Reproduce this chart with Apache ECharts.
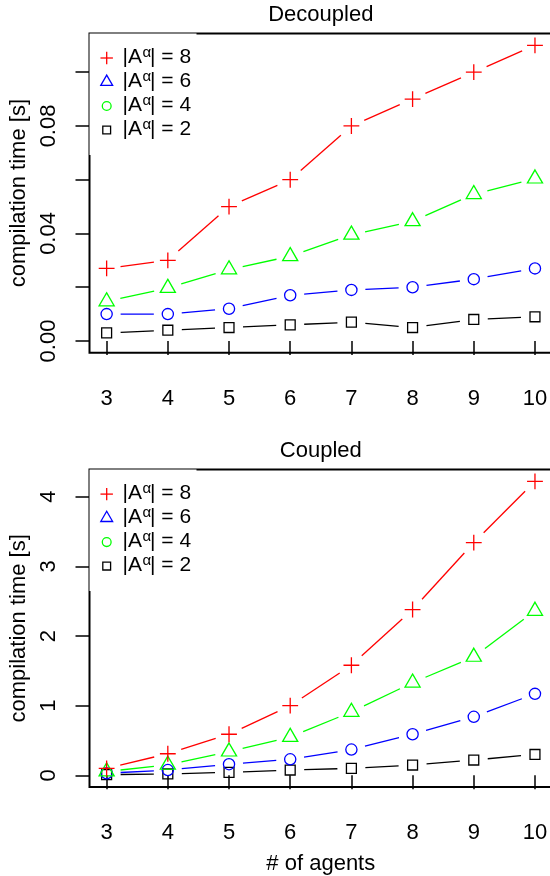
<!DOCTYPE html>
<html>
<head>
<meta charset="utf-8">
<script src="https://cdn.jsdelivr.net/npm/echarts@6/dist/echarts.min.js"></script>
<style>html,body{margin:0;padding:0;background:#fff}#c{width:550px;height:876px}</style>
</head>
<body>
<div id="c"></div>
<script>
// ---------- data ----------
const agents = [3, 4, 5, 6, 7, 8, 9, 10];
const xTickValues = [3, 4, 5, 6, 7, 8, 9, 10];

// Decoupled panel
const decA8 = [0.027, 0.030, 0.050, 0.060, 0.080, 0.090, 0.100, 0.110];
const decA6 = [0.0147, 0.0197, 0.0266, 0.0315, 0.0395, 0.0445, 0.0546, 0.0604];
const decA4 = [0.010, 0.010, 0.012, 0.017, 0.019, 0.020, 0.023, 0.027];
const decA2 = [0.003, 0.004, 0.005, 0.006, 0.007, 0.005, 0.008, 0.009];
const decTickValues = [0, 0.02, 0.04, 0.06, 0.08, 0.10];
const decLabelValues = [0, 0.04, 0.08];

// Coupled panel
const couA8 = [0.10, 0.31, 0.59, 1.00, 1.58, 2.38, 3.34, 4.22];
const couA6 = [0.055, 0.15, 0.34, 0.55, 0.91, 1.33, 1.70, 2.36];
const couA4 = [0.03, 0.076, 0.16, 0.23, 0.37, 0.59, 0.84, 1.17];
const couA2 = [0.01, 0.02, 0.043, 0.076, 0.10, 0.148, 0.22, 0.30];
const couTickValues = [0, 1, 2, 3, 4];
const couLabelValues = [0, 1, 2, 3, 4];

const legendValues = ['8', '6', '4', '2'];
const panelTitles = ['Decoupled', 'Coupled'];
const xAxisTitle = '# of agents';
const yAxisTitle = 'compilation time [s]';

// ---------- styles ----------
const FONT = 'Liberation Sans, Arial, Helvetica, sans-serif';
const FS = 22;
const GAP = 14;
const LW = 1.3;
const R = 5.6;           // symbol radius (plot)
const RL = 4.4;          // symbol radius (legend)

const PLUS = 'path://M-1,0L1,0M0,-1L0,1';
const TRI = 'path://M0,-1.555L1.347,0.778L-1.347,0.778Z';

// markers as drawn in the plot
const plotStyles = [
  {color: '#ff0000', symbol: PLUS, size: [2 * 1.414 * R, 2 * 1.414 * R], offset: [0, 0]},
  {color: '#00ff00', symbol: TRI, size: [2 * 1.347 * R, 2.333 * R], offset: [0, -0.3885 * R]},
  {color: '#0000ff', symbol: 'circle', size: [2 * R, 2 * R], offset: [0, 0]},
  {color: '#000000', symbol: 'rect', size: [2 * 0.886 * R, 2 * 0.886 * R], offset: [0, 0]}
];

const grids = [
  {left: 89.5, top: 33.5, width: 462.6, height: 319.3},
  {left: 89.5, top: 469.6, width: 462.6, height: 317.5}
];
const yRanges = [[-0.0044, 0.1144], [-0.1688, 4.3888]];
const xRange = [2.72, 10.28];

const panels = [
  {data: [decA8, decA6, decA4, decA2], ticks: decTickValues, labels: decLabelValues, fmt: v => v.toFixed(2)},
  {data: [couA8, couA6, couA4, couA2], ticks: couTickValues, labels: couLabelValues, fmt: v => String(Math.round(v))}
];

function gapLine(color) {
  return function (params, api) {
    const p1 = api.coord([api.value(0), api.value(1)]);
    const p2 = api.coord([api.value(2), api.value(3)]);
    const dx = p2[0] - p1[0], dy = p2[1] - p1[1];
    const d = Math.sqrt(dx * dx + dy * dy);
    if (d <= 2 * GAP) return {type: 'group', children: []};
    const ux = dx / d, uy = dy / d;
    return {
      type: 'line',
      shape: {x1: p1[0] + ux * GAP, y1: p1[1] + uy * GAP, x2: p2[0] - ux * GAP, y2: p2[1] - uy * GAP},
      style: {stroke: color, lineWidth: LW, fill: null}
    };
  };
}

const xAxes = [], yAxes = [], series = [], graphics = [];

panels.forEach((p, gi) => {
  xAxes.push({
    gridIndex: gi, type: 'value', min: xRange[0], max: xRange[1],
    axisLine: {show: false}, splitLine: {show: false},
    axisTick: {show: true, length: 14, customValues: xTickValues, lineStyle: {color: '#000', width: 1.5}},
    axisLabel: {customValues: xTickValues, margin: 35, fontSize: FS, fontFamily: FONT, color: '#000', hideOverlap: false},
    name: gi === 1 ? xAxisTitle : '',
    nameLocation: 'middle', nameGap: 66,
    nameTextStyle: {fontSize: FS, fontFamily: FONT, color: '#000'}
  });
  yAxes.push({
    gridIndex: gi, type: 'value', min: yRanges[gi][0], max: yRanges[gi][1],
    axisLine: {show: false}, splitLine: {show: false},
    axisTick: {show: true, length: 14, customValues: p.ticks, lineStyle: {color: '#000', width: 1.5}},
    axisLabel: {customValues: p.labels, rotate: 90, margin: 30, fontSize: FS, fontFamily: FONT, color: '#000', formatter: p.fmt, hideOverlap: false},
    name: yAxisTitle, nameLocation: 'middle', nameRotate: 90, nameGap: 53,
    nameTextStyle: {fontSize: FS, fontFamily: FONT, color: '#000'}
  });

  // draw order: black squares first, red plus last
  [3, 2, 1, 0].forEach((si, k) => {
    const ys = p.data[si];
    const st = plotStyles[si];
    const segs = [];
    for (let i = 0; i < agents.length - 1; i++) segs.push([agents[i], ys[i], agents[i + 1], ys[i + 1]]);
    series.push({
      type: 'custom', xAxisIndex: gi, yAxisIndex: gi, z: 2 + k * 2,
      renderItem: gapLine(st.color), data: segs, silent: true,
      encode: {x: [0, 2], y: [1, 3]}
    });
    series.push({
      type: 'scatter', xAxisIndex: gi, yAxisIndex: gi, z: 3 + k * 2,
      symbol: st.symbol, symbolSize: st.size, symbolOffset: st.offset,
      itemStyle: {color: 'rgba(0,0,0,0)', borderColor: st.color, borderWidth: LW, opacity: 1},
      emphasis: {disabled: true}, silent: true,
      data: agents.map((x, i) => [x, ys[i]])
    });
  });

  // title
  const g = grids[gi];
  const cx = g.left + g.width / 2;
  graphics.push({
    type: 'text', x: cx, y: g.top - 18.5, z: 60,
    style: {text: panelTitles[gi], fontSize: FS, fontFamily: FONT, fill: '#000', align: 'center', verticalAlign: 'middle'}
  });

  // legend (as printed in the reference)
  graphics.push({
    type: 'rect', z: 50, shape: {x: g.left, y: g.top, width: 107, height: 121.5},
    style: {fill: '#fff', stroke: null}
  });
  const legendColors = ['#ff0000', '#0000ff', '#00ff00', '#000000'];
  const sx = 106.7;
  legendValues.forEach((val, r) => {
    const cy = g.top + 24.5 + r * 24;
    const col = legendColors[r];
    const ls = {stroke: col, lineWidth: LW, fill: null};
    if (r === 0) {
      const h = 1.414 * RL;
      graphics.push({type: 'line', z: 55, shape: {x1: sx - h, y1: cy, x2: sx + h, y2: cy}, style: ls});
      graphics.push({type: 'line', z: 55, shape: {x1: sx, y1: cy - h, x2: sx, y2: cy + h}, style: ls});
    } else if (r === 1) {
      graphics.push({type: 'polygon', z: 55, shape: {points: [[sx, cy - 1.555 * RL], [sx + 1.347 * RL, cy + 0.778 * RL], [sx - 1.347 * RL, cy + 0.778 * RL]]}, style: ls});
    } else if (r === 2) {
      graphics.push({type: 'circle', z: 55, shape: {cx: sx, cy: cy, r: RL}, style: ls});
    } else {
      const s = 0.886 * RL;
      graphics.push({type: 'rect', z: 55, shape: {x: sx - s, y: cy - s, width: 2 * s, height: 2 * s}, style: ls});
    }
    const ts = {fontSize: 21, fontFamily: FONT, fill: '#000', align: 'left', verticalAlign: 'middle'};
    graphics.push({type: 'text', z: 55, x: 122.5, y: cy - 1, style: Object.assign({}, ts, {text: '|A'})});
    graphics.push({type: 'text', z: 55, x: 142.5, y: cy - 5.5, style: Object.assign({}, ts, {text: 'α', fontSize: 15})});
    graphics.push({type: 'text', z: 55, x: 150, y: cy - 1, style: Object.assign({}, ts, {text: '| = ' + val})});
  });
});

const chart = echarts.init(document.getElementById('c'), null, {renderer: 'canvas'});
chart.setOption({
  animation: false,
  backgroundColor: '#fff',
  grid: grids.map(g => Object.assign({show: true, borderColor: '#000', borderWidth: 2, backgroundColor: 'transparent', containLabel: false, outerBoundsMode: 'none'}, g)),
  xAxis: xAxes,
  yAxis: yAxes,
  series: series,
  graphic: {elements: graphics}
});
</script>
</body>
</html>
